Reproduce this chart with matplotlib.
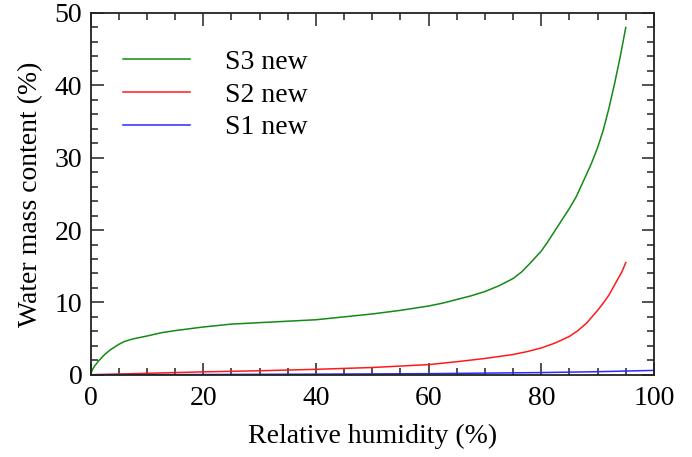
import matplotlib
matplotlib.use("Agg")
import matplotlib.pyplot as plt
from matplotlib.ticker import MultipleLocator

# Data
s3_rh = [0, 0.3, 0.7, 1.3, 2, 2.5, 3.5, 5, 6, 7.5, 10, 12.5, 15, 17.5, 20, 25, 30, 35, 40, 45,
         50, 55, 60, 62.5, 65, 67.5, 70, 72.5, 75, 76.5, 78, 80, 81, 82.5, 84, 85, 86.2, 87.5,
         88.9, 90, 91, 92, 93, 94, 95]
s3_w = [0, 0.7, 1.2, 1.8, 2.4, 2.8, 3.45, 4.2, 4.6, 4.95, 5.35, 5.8, 6.1, 6.35, 6.6, 7.0, 7.2, 7.4, 7.6, 8.0,
        8.4, 8.9, 9.5, 9.9, 10.4, 10.9, 11.5, 12.3, 13.3, 14.2, 15.4, 17.1, 18.2, 20.0, 21.8, 23.0, 24.6, 26.8,
        29.2, 31.4, 33.8, 36.8, 40.2, 43.9, 48.0]

s2_rh = [0, 10, 20, 30, 40, 50, 60, 65, 70, 75, 77.5, 80, 82.5, 85, 86.5, 88, 89, 90, 91, 92,
         93.5, 94.3, 95]
s2_w = [0, 0.2, 0.4, 0.55, 0.75, 1.0, 1.4, 1.8, 2.25, 2.8, 3.2, 3.7, 4.4, 5.3, 6.1, 7.1, 8.0, 8.9, 9.9, 11.0,
        13.1, 14.2, 15.5]

s1_rh = [0, 20, 40, 60, 80, 90, 100]
s1_w = [0, 0.03, 0.08, 0.15, 0.3, 0.42, 0.6]

labels = ["S3 new", "S2 new", "S1 new"]
x_label = "Relative humidity (%)"
y_label = "Water mass content (%)"

plt.rcParams['font.family'] = ['Liberation Serif', 'DejaVu Serif']

fig = plt.figure(figsize=(6.92, 4.57), dpi=100)
ax = fig.add_axes([0.131, 0.180, 0.814, 0.7916])

ax.plot(s3_rh, s3_w, color='#138a13', lw=1.1, label=labels[0])
ax.plot(s2_rh, s2_w, color='#ff1a1a', lw=1.1, label=labels[1])
ax.plot(s1_rh, s1_w, color='#2a2aff', lw=1.1, label=labels[2])

ax.set_xlim(0, 100)
ax.set_ylim(0, 50)
ax.xaxis.set_major_locator(MultipleLocator(20))
ax.xaxis.set_minor_locator(MultipleLocator(5))
ax.yaxis.set_major_locator(MultipleLocator(10))
ax.yaxis.set_minor_locator(MultipleLocator(2))
ax.tick_params(which='both', direction='in', top=True, right=True, width=1.2, color='#333333')
ax.tick_params(which='major', length=9, labelsize=20)
ax.tick_params(axis='x', which='major', pad=8)
ax.tick_params(axis='y', which='major', pad=6)
ax.tick_params(which='minor', length=4.8)
for s in ax.spines.values():
    s.set_linewidth(1.3)
    s.set_color('#222222')

ax.set_xlabel(x_label, fontsize=20, labelpad=9)
ax.set_ylabel(y_label, fontsize=20, labelpad=8)

leg = ax.legend(loc='upper left', bbox_to_anchor=(0.058, 0.899), frameon=False, fontsize=20,
                handlelength=2.4, handletextpad=1.26, labelspacing=0.26, borderpad=0, borderaxespad=0)

fig.savefig("out.png", dpi=100)
